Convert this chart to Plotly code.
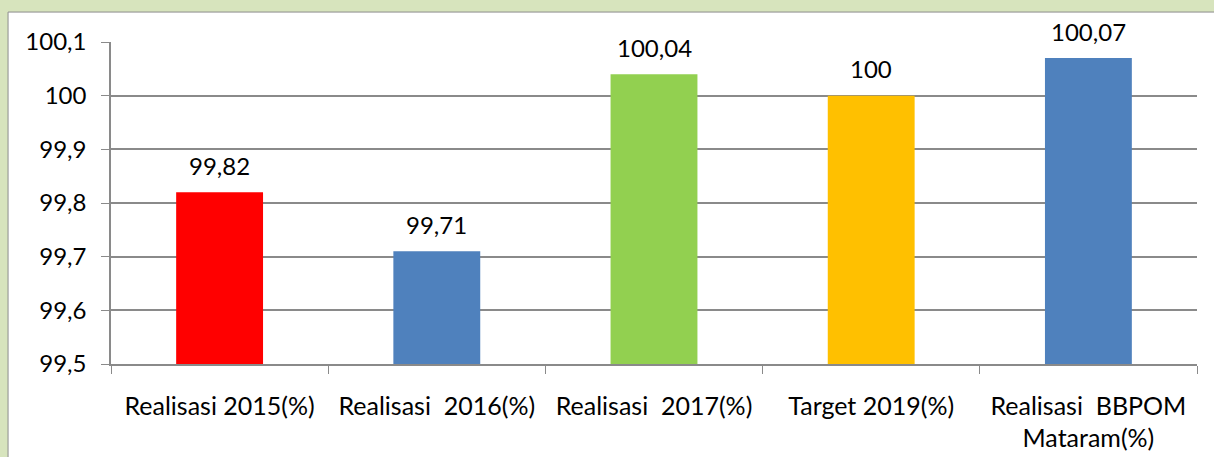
import plotly.graph_objects as go

categories = [
    "Realisasi 2015(%)",
    "Realisasi\u00a0 2016(%)",
    "Realisasi\u00a0 2017(%)",
    "Target 2019(%)",
    "Realisasi\u00a0 BBPOM<br>Mataram(%)",
]
values = [99.82, 99.71, 100.04, 100.00, 100.07]
bar_colors = ["#ff0000", "#4f81bd", "#92d050", "#ffc000", "#4f81bd"]
y_ticks = [99.5, 99.6, 99.7, 99.8, 99.9, 100.0, 100.1]

FONT = "Lato"
FSIZE = 24
GRID = "#8a8a8a"

fig = go.Figure()

fig.add_trace(
    go.Bar(
        x=categories,
        y=values,
        marker=dict(color=bar_colors, line=dict(width=0)),
        width=0.4,
        hoverinfo="skip",
    )
)

# data labels above each bar, decimal comma like the original
for cat, val in zip(categories, values):
    fig.add_annotation(
        x=cat,
        y=val,
        text=f"{val:g}".replace(".", ","),
        showarrow=False,
        yanchor="middle",
        yshift=27,
        font=dict(family=FONT, size=FSIZE, color="#000000"),
    )

# white chart area on the light green page
fig.add_shape(
    type="rect",
    xref="paper",
    yref="paper",
    x0=-0.0948,
    x1=1.1,
    y0=-0.4,
    y1=1.093,
    fillcolor="#ffffff",
    line=dict(color="#8c8c8c", width=1),
    layer="below",
)

# -------------------------- Configure Layout ---------------------- #
fig.update_layout(
    width=1214,
    height=457,
    separators=",.",
    paper_bgcolor="#d7e4bd",
    plot_bgcolor="rgba(0,0,0,0)",
    showlegend=False,
    margin=dict(l=111, r=17, t=42, b=93),
    font=dict(family=FONT, size=FSIZE, color="#000000"),
    xaxis=dict(
        type="category",
        automargin=False,
        tickson="boundaries",
        ticks="outside",
        ticklen=8,
        tickcolor=GRID,
        showline=True,
        linecolor=GRID,
        linewidth=1.5,
        showgrid=False,
        ticklabelstandoff=19,
        tickfont=dict(family=FONT, size=25),
    ),
    yaxis=dict(
        range=[99.5, 100.1],
        automargin=False,
        tickvals=y_ticks,
        ticks="outside",
        ticklen=8,
        tickcolor=GRID,
        showline=True,
        linecolor=GRID,
        linewidth=1.5,
        showgrid=True,
        gridcolor=GRID,
        gridwidth=1.5,
        zeroline=False,
        ticklabelstandoff=10,
        tickfont=dict(family=FONT, size=FSIZE),
    ),
)

# no default body margin so the figure sits at the window's top-left corner
fig.write_html(
    "out.html",
    config={"displayModeBar": False},
    post_script="document.body.style.margin='0';",
)
